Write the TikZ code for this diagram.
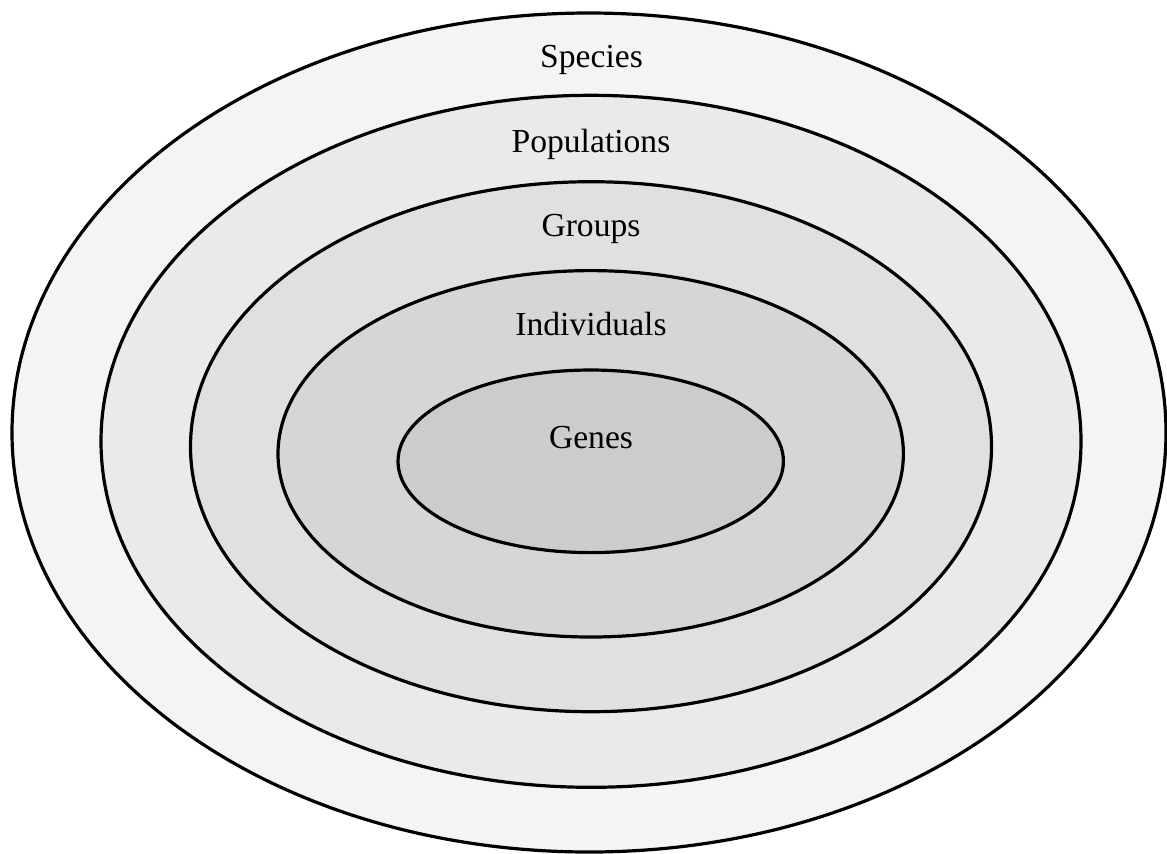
\documentclass[tikz,border=0pt]{standalone}
\usepackage{fontspec}
\setmainfont{Liberation Serif}
\usepackage{tikz}

\definecolor{speciesgray}{HTML}{F4F4F4}
\definecolor{popgray}{HTML}{EAEAEA}
\definecolor{groupgray}{HTML}{E0E0E0}
\definecolor{indivgray}{HTML}{D6D6D6}
\definecolor{genegray}{HTML}{CCCCCC}

\tikzset{
	ring/.style={draw=black,line width=1.6pt},
	lbl/.style={anchor=base,inner sep=0pt,font=\fontsize{16.8}{20}\selectfont}
}

\begin{document}
\begin{tikzpicture}[x=0.5pt,y=-0.5pt]
		\useasboundingbox (0,0) rectangle (1167,853);
		% nested levels, outermost first
		\draw[ring,fill=speciesgray] (589,432.5) ellipse [x radius=577,y radius=419.5];
		\draw[ring,fill=popgray] (591,441.3) ellipse [x radius=490,y radius=346];
		\draw[ring,fill=groupgray] (591,446.7) ellipse [x radius=400.5,y radius=265];
		\draw[ring,fill=indivgray] (590.7,453.8) ellipse [x radius=312.7,y radius=183.2];
		\draw[ring,fill=genegray] (590.7,461.3) ellipse [x radius=192.7,y radius=91.3];
		% labels
		\node[lbl] (species) at (591.5,67) {Species};
		\node[lbl] (populations) at (591,152) {Populations};
		\node[lbl] (groups) at (591,236.7) {Groups};
		\node[lbl] (individuals) at (591,335) {Individuals};
		\node[lbl] (genes) at (591,448) {Genes};
\end{tikzpicture}
\end{document}
